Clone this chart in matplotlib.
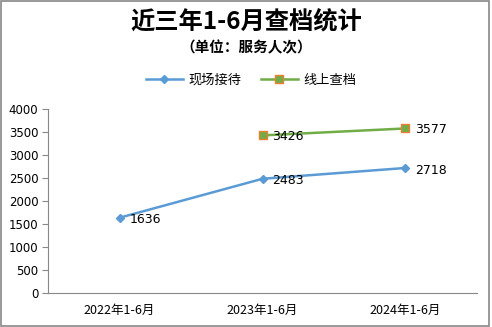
import matplotlib.pyplot as plt
from matplotlib.patches import Rectangle

plt.rcParams['font.family'] = ['Noto Sans CJK SC', 'DejaVu Sans']

# Data
periods = ['2022年1-6月', '2023年1-6月', '2024年1-6月']
onsite = [1636, 2483, 2718]
online_periods = ['2023年1-6月', '2024年1-6月']
online = [3426, 3577]

fig = plt.figure(figsize=(4.92, 3.27), dpi=100)
ax = fig.add_axes([0.0976, 0.104, 0.8719, 0.5627])

x_on = [periods.index(p) for p in periods]
x_ol = [periods.index(p) for p in online_periods]

ax.plot(x_on, onsite, color='#5b9bd5', lw=1.8, marker='D', ms=4,
        mfc='#5b9bd5', mec='#5b9bd5', label='现场接待')
ax.plot(x_ol, online, color='#70ad47', lw=1.8, marker='s', ms=6,
        mfc='#70ad47', mec='#ed7d31', mew=1, label='线上查档')

# value labels
for x, v in zip(x_on, onsite):
    ax.annotate(str(v), (x, v), xytext=(7, -1.5), textcoords='offset points',
                fontsize=9, family=['DejaVu Sans'], va='center')
for x, v in zip(x_ol, online):
    ax.annotate(str(v), (x, v), xytext=(7, -0.5), textcoords='offset points',
                fontsize=9, family=['DejaVu Sans'], va='center')

ax.set_xlim(-0.5, 2.5)
ax.set_ylim(0, 4000)
ax.set_yticks(range(0, 4001, 500))
ax.set_xticks(x_on)
ax.set_xticklabels(periods, fontsize=9)
for lab in ax.get_yticklabels():
    lab.set_fontsize(8.5)
    lab.set_family(['DejaVu Sans'])
ax.tick_params(axis='x', length=0, pad=8)
ax.tick_params(axis='y', length=4, color='#888888', pad=3)
for s in ['top', 'right']:
    ax.spines[s].set_visible(False)
ax.spines['left'].set_color('#888888')
ax.spines['bottom'].set_color('#888888')

fig.text(0.5, 0.935, '近三年1-6月查档统计', ha='center', va='center',
         fontsize=17.5, fontweight='bold')
fig.text(0.5, 0.855, '（单位：服务人次）', ha='center', va='center',
         fontsize=10.5, fontweight='bold')

fig.legend(loc='center', bbox_to_anchor=(0.51, 0.755), ncol=2, frameon=False,
           fontsize=9.5, handlelength=2.8, columnspacing=1.5, handletextpad=0.4)

# outer frame
fig.patches.append(Rectangle((0.002, 0.004), 0.992, 0.994, transform=fig.transFigure,
                             fill=False, edgecolor='#888888', lw=1.2))

fig.savefig('out.png', dpi=100)
